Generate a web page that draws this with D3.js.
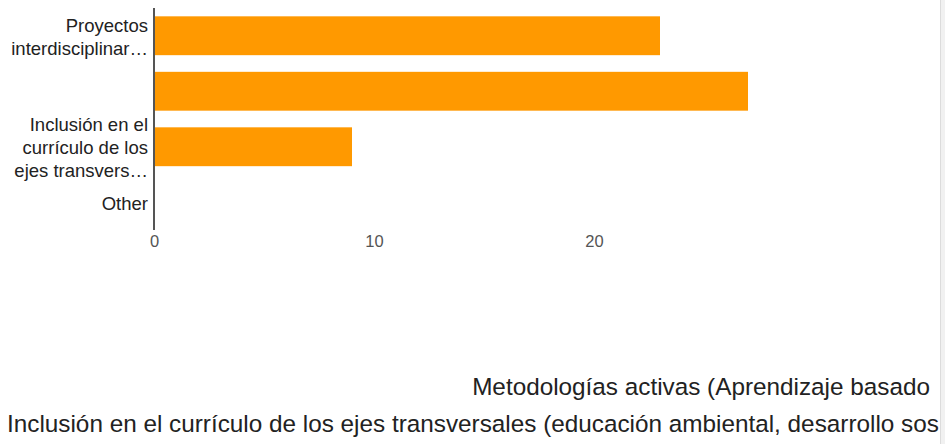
<!DOCTYPE html>
<html>
  <head>
    <meta charset="utf-8">
    <script src="https://d3js.org/d3.v7.min.js"></script>
  </head>
  <style type="text/css">
    body {
      margin: 0;
      background: #fff;
    }
    svg {
      font-family: "Liberation Sans", Arial, sans-serif;
      display: block;
    }
    .cat-label {
      font-size: 18.5px;
      fill: #222;
    }
    .x.axis text {
      font-size: 16.5px;
      fill: #555;
    }
    .legend-text {
      font-size: 24.3px;
      fill: #222;
    }
  </style>
  <body>
    <div id="chart"></div>
  </body>
  <script type="text/javascript">
    // categories (full names) and answer counts
    var categories = [
      "Proyectos interdisciplinares",
      "Metodologías activas (Aprendizaje basado en proyectos)",
      "Inclusión en el currículo de los ejes transversales (educación ambiental, desarrollo sostenible)",
      "Other"
    ];
    var counts = [23, 27, 9, 0];

    // truncated labels as shown next to the bars (one entry per line)
    var catLabels = [
      ["Proyectos", "interdisciplinar…"],
      [],
      ["Inclusión en el", "currículo de los", "ejes transvers…"],
      ["Other"]
    ];

    var tickValues = [0, 10, 20];

    // overflowing legend lines at the bottom, as far as they are visible
    var legendLines = [
      "Metodologías activas (Aprendizaje basado",
      "Inclusión en el currículo de los ejes transversales (educación ambiental, desarrollo sos"
    ];

    var width = 945;
    var height = 444;
    var axisX = 154;
    var plotTop = 8;
    var plotBottom = 230;

    var data = categories.map(function(c, i) {
      return {name: c, value: counts[i], label: catLabels[i]};
    });

    /* Scales */
    var xScale = d3.scaleLinear()
      .domain([0, 27])
      .range([axisX, axisX + 27 * 22]);

    var yScale = d3.scaleBand()
      .domain(categories)
      .range([plotTop, plotBottom])
      .paddingInner(0.3)
      .paddingOuter(0.15);

    var svg = d3.select("#chart").append("svg")
      .attr("width", width)
      .attr("height", height);

    /* Bars */
    svg.append("g")
      .attr("class", "bars")
      .selectAll("rect")
      .data(data).enter()
      .append("rect")
      .attr("x", xScale(0))
      .attr("y", d => yScale(d.name))
      .attr("width", d => xScale(d.value) - xScale(0))
      .attr("height", yScale.bandwidth())
      .attr("fill", "#ff9900");

    /* Category labels, wrapped like the original */
    var lineH = 23;
    var labels = svg.append("g").attr("class", "labels");
    data.forEach(function(d) {
      var cy = yScale(d.name) + yScale.bandwidth() / 2 + 1;
      var n = d.label.length;
      d.label.forEach(function(line, j) {
        labels.append("text")
          .attr("class", "cat-label")
          .attr("x", axisX - 6)
          .attr("y", cy + (j - (n - 1) / 2) * lineH)
          .attr("dy", "0.35em")
          .attr("text-anchor", "end")
          .text(line);
      });
    });

    /* Vertical axis line */
    svg.append("line")
      .attr("x1", axisX).attr("x2", axisX)
      .attr("y1", plotTop).attr("y2", plotBottom)
      .attr("stroke", "#555")
      .attr("stroke-width", 2);

    /* X axis labels only */
    var xAxis = d3.axisBottom(xScale)
      .tickValues(tickValues)
      .tickSize(0)
      .tickPadding(0)
      .tickFormat(d3.format("d"));

    svg.append("g")
      .attr("class", "x axis")
      .attr("transform", `translate(0, ${plotBottom + 5})`)
      .call(xAxis)
      .call(g => g.select(".domain").remove())
      .selectAll("text")
      .attr("font-family", null)
      .attr("font-size", null);

    /* Bottom legend text */
    svg.append("text")
      .attr("class", "legend-text")
      .attr("x", 930)
      .attr("y", 395)
      .attr("text-anchor", "end")
      .text(legendLines[0]);
    svg.append("text")
      .attr("class", "legend-text")
      .attr("x", 7)
      .attr("y", 432)
      .text(legendLines[1]);

    /* Scrollbar strip on the right */
    svg.append("rect")
      .attr("x", 940).attr("y", 0)
      .attr("width", 5).attr("height", height)
      .attr("fill", "#f1f1f1");
    svg.append("line")
      .attr("x1", 940.5).attr("x2", 940.5)
      .attr("y1", 0).attr("y2", height)
      .attr("stroke", "#dcdcdc");
  </script>
</html>
